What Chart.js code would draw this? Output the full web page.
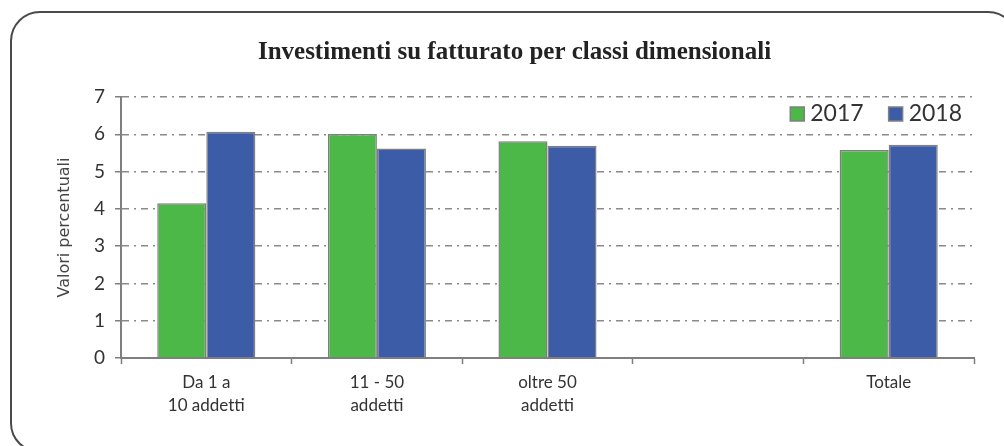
<!DOCTYPE html>
<html>
<head>
<meta charset="utf-8">
<script src="https://cdn.jsdelivr.net/npm/chart.js@4"></script>
<style>
  html, body { margin: 0; padding: 0; background: #fff; overflow: hidden; }
  #frame {
    position: absolute; left: 10px; top: 11px; width: 1008px; height: 442px;
    border: 2px solid #4a4a4a; border-radius: 30px; box-sizing: border-box;
  }
  #wrap { position: absolute; left: 0; top: 0; width: 1004px; height: 446px; }
</style>
</head>
<body>
<div id="frame"></div>
<div id="wrap"><canvas id="chart"></canvas></div>
<script>
// categorie e valori
// \u200C evita la legatura "tt" del font Lato
const categories = [['Da 1 a', '10 addet\u200Cti'], ['11 - 50', 'addet\u200Cti'], ['oltre 50', 'addet\u200Cti'], '', 'Totale'];
const seriesNames = ['2017', '2018'];
const values2017 = [4.15, 6.01, 5.81, null, 5.58];
const values2018 = [6.07, 5.62, 5.69, null, 5.72];
const yTicks = [0, 1, 2, 3, 4, 5, 6, 7];

const textFont = 'Lato';

// legenda disegnata dentro l'area del grafico, in alto a destra
const innerLegend = {
    id: 'innerLegend',
    afterDraw(chart) {
        const ctx = chart.ctx;
        const area = chart.chartArea;
        const ds = chart.data.datasets;
        ctx.save();
        ctx.font = '23px ' + textFont;
        ctx.textBaseline = 'middle';
        let x = area.right - 12;
        const y = area.top + 17;
        for (let i = ds.length - 1; i >= 0; i--) {
            const w = ctx.measureText(ds[i].label).width;
            x -= w;
            ctx.fillStyle = '#333';
            ctx.fillText(ds[i].label, x, y);
            x -= 20;
            ctx.fillStyle = ds[i].backgroundColor;
            ctx.fillRect(x, y - 7, 14, 14);
            ctx.strokeStyle = '#808080';
            ctx.lineWidth = 1.5;
            ctx.strokeRect(x, y - 7, 14, 14);
            x -= 25;
        }
        ctx.restore();
    }
};

new Chart(document.getElementById('chart'), {
    type: 'bar',
    data: {
        labels: categories,
        datasets: [{
            label: seriesNames[0],
            data: values2017,
            backgroundColor: '#4bb848',
            borderColor: '#7f7f7f',
            borderWidth: 1.5,
            barPercentage: 1,
            categoryPercentage: 0.575
        }, {
            label: seriesNames[1],
            data: values2018,
            backgroundColor: '#3d5ca8',
            borderColor: '#7f7f7f',
            borderWidth: 1.5,
            barPercentage: 1,
            categoryPercentage: 0.575
        }]
    },
    options: {
        responsive: true,
        maintainAspectRatio: false,
        animation: false,
        layout: { padding: { left: 55, right: 30, top: 0, bottom: 0 } },
        plugins: {
            legend: { display: false },
            tooltip: { enabled: false },
            title: {
                display: true,
                text: 'Investimenti su fatturato per classi dimensionali',
                color: '#222',
                font: { family: 'Liberation Serif', size: 25, weight: 'bold' },
                padding: { top: 38, bottom: 29 }
            }
        },
        scales: {
            x: {
                grid: {
                    offset: true,
                    drawOnChartArea: false,
                    tickLength: 6,
                    tickColor: '#7f7f7f',
                    tickWidth: 1.5
                },
                border: { color: '#7f7f7f', width: 2 },
                ticks: {
                    color: '#333',
                    font: { family: textFont, size: 17, lineHeight: 1.35 },
                    maxRotation: 0,
                    padding: 7
                },
                afterFit(scale) { scale.height = 88; }
            },
            y: {
                min: 0,
                max: 7,
                afterBuildTicks(scale) { scale.ticks = yTicks.map(v => ({ value: v })); },
                grid: {
                    color: '#8a8a8a',
                    lineWidth: 1.5,
                    tickLength: 6,
                    tickColor: '#7f7f7f',
                    tickWidth: 1.5,
                    tickBorderDash: []
                },
                border: { color: '#7f7f7f', width: 2, dash: [7, 5, 2, 5] },
                ticks: {
                    color: '#333',
                    font: { family: textFont, size: 19 },
                    padding: 10
                },
                title: {
                    display: true,
                    text: 'Valori percentuali',
                    color: '#444',
                    font: { family: 'DejaVu Sans', size: 16, lineHeight: 1.2 },
                    padding: { top: 0, bottom: 0 }
                },
                afterFit(scale) { scale.width = 66; }
            }
        }
    },
    plugins: [innerLegend]
});
</script>
</body>
</html>
